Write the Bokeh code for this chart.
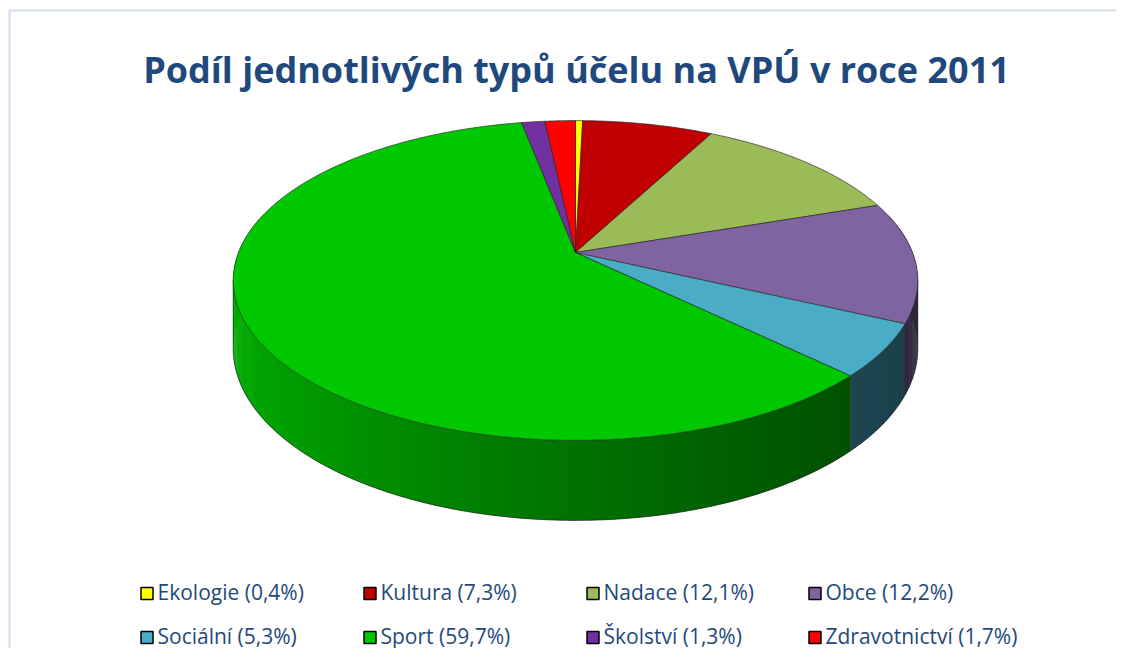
import numpy as np
from bokeh.plotting import figure
from bokeh.models import Range1d
from bokeh.embed import file_html
from bokeh.resources import INLINE
from bokeh.core.properties import value

# ---- data ----
categories = ["Ekologie", "Kultura", "Nadace", "Obce", "Sociální", "Sport", "Školství", "Zdravotnictví"]
shares = [0.4, 7.3, 12.1, 12.2, 5.3, 59.7, 1.3, 1.7]
share_labels = ["0,4%", "7,3%", "12,1%", "12,2%", "5,3%", "59,7%", "1,3%", "1,7%"]
colors = ["#ffff00", "#c00000", "#9bbb59", "#8064a2", "#4bacc6", "#00c800", "#7030a0", "#ff0000"]
title_text = "Podíl jednotlivých typů účelu na VPÚ v roce 2011"

# ---- layout ----
W, H = 1116, 648
CX, CY = 575.0, 252.0      # apex of pie on canvas
RX, RY = 337.0, 155.0      # radii of top face
K = 0.175                  # perspective factor
DEPTH = 66.0               # thickness of pie

p = figure(width=W, height=H, x_range=Range1d(0, W), y_range=Range1d(H, 0),
           output_backend="svg", toolbar_location=None, min_border=0)
p.axis.visible = False
p.grid.visible = False
p.outline_line_color = None
p.background_fill_color = "white"
p.border_fill_color = "white"

# chart-area border (partly visible)
p.line(x=[9, 9, W + 5], y=[H + 5, 10, 10], line_color="#d3ddef", line_width=2)


def proj(theta_deg, drop=0.0):
    t = np.radians(theta_deg)
    xc = np.sin(t)
    dc = -np.cos(t)
    s = 1.0 / (1.0 - K * dc)
    return CX + RX * xc * s, CY + RY * dc * s + drop * s


def hex2rgb(h):
    h = h.lstrip("#")
    return tuple(int(h[i:i + 2], 16) for i in (0, 2, 4))


def shade(h, f):
    r, g, b = hex2rgb(h)
    return "#%02x%02x%02x" % (int(r * f), int(g * f), int(b * f))


total = float(sum(shares))
bounds = np.concatenate([[0.0], np.cumsum(shares) / total * 360.0])

# ---- side walls ----
segs = []
for i in range(len(shares)):
    a0, a1 = bounds[i], bounds[i + 1]
    n = max(1, int(np.ceil((a1 - a0) / 0.5)))
    ts = np.linspace(a0, a1, n + 1)
    for j in range(n):
        t0, t1 = ts[j], ts[j + 1]
        tm = 0.5 * (t0 + t1)
        dcm = -np.cos(np.radians(tm))
        if dcm < -0.25:
            continue
        xcm = np.sin(np.radians(tm))
        f = 0.37 + 0.5 * ((1 - xcm) / 2.0) ** 1.3
        t1e = min(t1 + 0.35, a1) if j < n - 1 else t1
        qa = np.array([t0, t1e])
        xt, yt = proj(qa)
        xb, yb = proj(qa[::-1], DEPTH)
        col = shade(colors[i], f)
        segs.append((dcm, list(xt) + list(xb), list(yt) + list(yb), col))
segs.sort(key=lambda s: s[0])
p.patches(xs=[s[1] for s in segs], ys=[s[2] for s in segs],
          fill_color=[s[3] for s in segs], line_color=None)

# side outlines: bottom rim, silhouettes and visible slice boundaries
sil_r, sil_l = 100.0, 260.0
tt = np.linspace(sil_r, sil_l, 200)
bx, by = proj(tt, DEPTH)
p.line(x=bx, y=by, line_color="#222222", line_width=0.9, line_alpha=0.75)
for ang in [sil_r, sil_l] + [b for b in bounds if sil_r < b < sil_l]:
    xa, ya = proj(ang)
    xb, yb = proj(ang, DEPTH)
    p.line(x=[xa, xb], y=[ya, yb], line_color="#222222", line_width=0.9, line_alpha=0.75)

# ---- top faces ----
txs, tys = [], []
for i in range(len(shares)):
    a0, a1 = bounds[i], bounds[i + 1]
    n = max(2, int(np.ceil((a1 - a0) / 0.5)))
    ts = np.linspace(a0, a1, n + 1)
    xs, ys = proj(ts)
    txs.append([CX] + list(xs))
    tys.append([CY] + list(ys))
p.patches(xs=txs, ys=tys, fill_color=colors, line_color="#222222", line_width=0.8, line_alpha=0.8)

# ---- title ----
p.text(x=[576], y=[69], text=[title_text], text_align="center", text_baseline="alphabetic",
       text_font=value("Open Sans"), text_font_style="bold", text_font_size="36px", text_color="#1f497d")

# ---- legend ----
col_x = [158, 381, 604, 826]   # text start
row_y = [591, 635]
leg_x, leg_y, leg_t = [], [], []
for i, (c, s) in enumerate(zip(categories, share_labels)):
    leg_x.append(col_x[i % 4])
    leg_y.append(row_y[i // 4])
    leg_t.append("%s (%s)" % (c, s))
p.rect(x=[x - 11.5 for x in leg_x], y=[y + 2 for y in leg_y], width=12, height=12, fill_color=colors,
       line_color="black", line_width=1.5)
p.text(x=[x - 1 for x in leg_x], y=leg_y, text=leg_t, text_align="left", text_baseline="middle",
       text_font=value("Open Sans"), text_font_size="21px", text_color="#1f497d")

open("out.html", "w").write(file_html(p, INLINE))
